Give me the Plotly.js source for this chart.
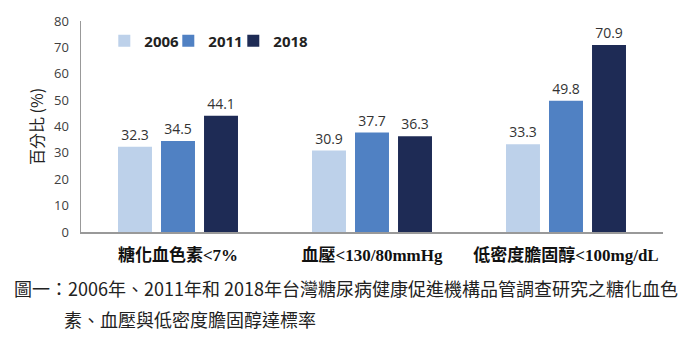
<!DOCTYPE html>
<html>
<head>
<meta charset="utf-8">
<script src="https://cdn.plot.ly/plotly-3.0.1.min.js"></script>
<style>html,body{margin:0;padding:0;background:#fff;}#chart{width:700px;height:338px;}</style>
</head>
<body>
<div id="chart"></div>
<script>
var categories = ["糖化血色素<7%", "血壓<130/80mmHg", "低密度膽固醇<100mg/dL"];
var seriesNames = ["2006", "2011", "2018"];
var values2006 = [32.3, 30.9, 33.3];
var values2011 = [34.5, 37.7, 49.8];
var values2018 = [44.1, 36.3, 70.9];
var yTicks = [0, 10, 20, 30, 40, 50, 60, 70, 80];
var colors = ["#BDD1EA", "#5081C3", "#1E2B55"];
var yTitle = "百分比 (%)";
var caption1 = "圖一：2006年、2011年和 2018年台灣糖尿病健康促進機構品管調查研究之糖化血色";
var caption2 = "素、血壓與低密度膽固醇達標率";

var allValues = [values2006, values2011, values2018];
var legendIds = ["legend", "legend2", "legend3"];
var legendTextLeft = [143, 207, 272];

var traces = seriesNames.map(function (name, i) {
  return {
    type: "bar",
    name: name,
    x: categories,
    y: allValues[i],
    legend: legendIds[i],
    text: allValues[i].map(function (v) { return v.toFixed(1); }),
    textposition: "outside",
    cliponaxis: false,
    textfont: {family: "Open Sans, Noto Sans, sans-serif", size: 14, color: "#333333"},
    marker: {color: colors[i]},
    hoverinfo: "none"
  };
});

var layout = {
  width: 700,
  height: 338,
  margin: {l: 81, r: 37, t: 21, b: 106},
  paper_bgcolor: "#ffffff",
  plot_bgcolor: "#ffffff",
  barmode: "group",
  bargap: 0.335,
  bargroupgap: 0.21,
  showlegend: true,
  xaxis: {
    showline: true,
    linecolor: "#999999",
    linewidth: 1.5,
    showgrid: false,
    zeroline: false,
    ticks: "",
    ticklabelstandoff: 7,
    tickfont: {family: "Liberation Serif, Noto Sans CJK TC, serif", size: 17, color: "#111111", weight: "bold"}
  },
  yaxis: {
    range: [0, 80],
    tickvals: yTicks,
    ticktext: yTicks.map(String),
    showline: true,
    linecolor: "#999999",
    linewidth: 1.5,
    showgrid: false,
    zeroline: false,
    ticks: "",
    ticklabelstandoff: 8,
    tickfont: {family: "Open Sans, Noto Sans, sans-serif", size: 13, color: "#404040"},
    title: {text: yTitle, standoff: 6, font: {family: "Noto Sans CJK TC, sans-serif", size: 16, color: "#222222"}}
  },
  annotations: [
    {text: caption1, xref: "paper", yref: "paper", x: (12 - 81) / 582, y: (232 - 288) / 211,
     xanchor: "left", yanchor: "middle", showarrow: false,
     font: {family: "Noto Sans CJK TC, sans-serif", size: 18, color: "#222222"}},
    {text: caption2, xref: "paper", yref: "paper", x: (62 - 81) / 582, y: (232 - 319) / 211,
     xanchor: "left", yanchor: "middle", showarrow: false,
     font: {family: "Noto Sans CJK TC, sans-serif", size: 18, color: "#222222"}}
  ]
};

legendIds.forEach(function (id, i) {
  layout[id] = {
    orientation: "h",
    x: (legendTextLeft[i] - 38.7 - 81) / 582,
    xanchor: "left",
    y: 0.905,
    yanchor: "middle",
    font: {family: "Noto Sans, sans-serif", size: 15, color: "#222222", weight: "bold"},
    bgcolor: "rgba(0,0,0,0)"
  };
});

Plotly.newPlot("chart", traces, layout, {displayModeBar: false, staticPlot: true});
</script>
</body>
</html>
